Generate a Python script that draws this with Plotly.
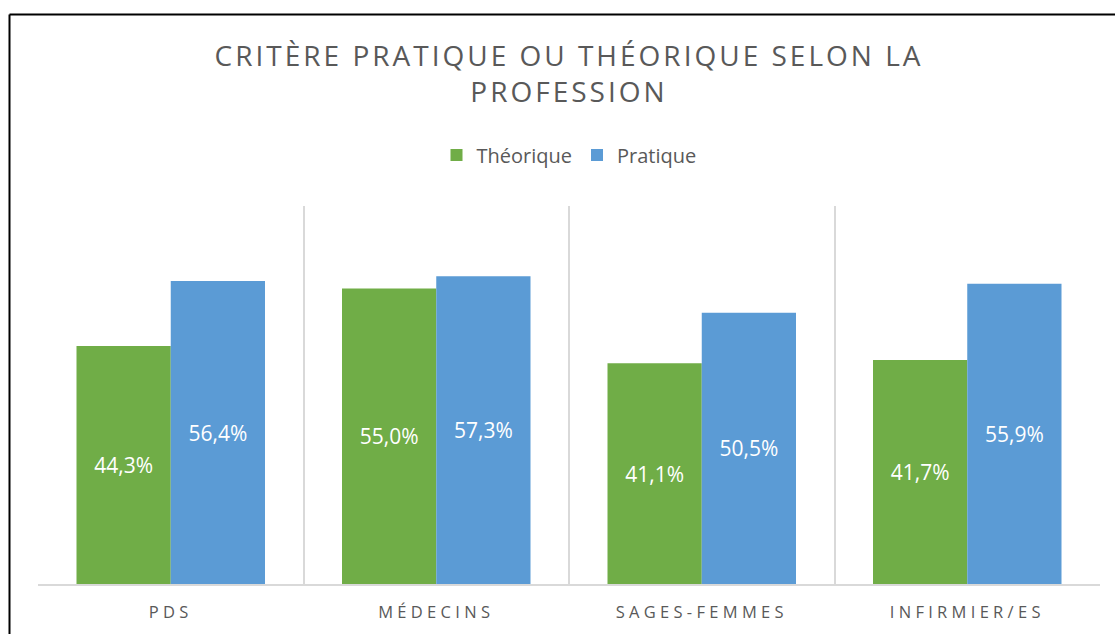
import plotly.graph_objects as go

categories = ["PDS", "MÉDECINS", "SAGES-FEMMES", "INFIRMIER/ES"]
theorique = [44.3, 55.0, 41.1, 41.7]
pratique = [56.4, 57.3, 50.5, 55.9]
series_names = ["Théorique", "Pratique"]
title_text = "CRITÈRE PRATIQUE OU THÉORIQUE SELON LA<br>PROFESSION"

GREEN = "#70AD47"
BLUE = "#5B9BD5"
GRAY_TXT = "#595959"
GRID = "#D9D9D9"
FONT = "Open Sans"

W, H = 1115, 634
L, R, T, B = 38, 15, 206, 50

fig = go.Figure()
for name, vals, col in [(series_names[0], theorique, GREEN), (series_names[1], pratique, BLUE)]:
    fig.add_trace(go.Bar(
        x=categories, y=vals, name=name,
        marker=dict(color=col, line=dict(width=0)),
        texttemplate="%{y:.1f}%",
        textposition="inside",
        insidetextanchor="middle",
        textangle=0,
        constraintext="none",
        textfont=dict(color="white", size=21, family=FONT),
        hoverinfo="skip",
    ))

pw = W - L - R
ph = H - T - B
fig.update_layout(
    width=W, height=H,
    margin=dict(l=L, r=R, t=T, b=B, autoexpand=False),
    barmode="group", bargap=0.29, bargroupgap=0,
    separators=", ",
    paper_bgcolor="white", plot_bgcolor="white",
    font=dict(family=FONT, color=GRAY_TXT),
    title=dict(
        text=title_text,
        x=0.5, xref="paper", xanchor="center",
        y=1 - 66 / H, yref="container", yanchor="top",
        font=dict(size=28, color=GRAY_TXT, family=FONT),
    ),
    legend=dict(
        orientation="h", x=0.5, xanchor="center",
        y=(H - B - 155) / ph, yanchor="middle",
        font=dict(size=20, color=GRAY_TXT, family=FONT),
        itemsizing="constant",
        traceorder="normal",
    ),
    xaxis=dict(
        type="category",
        tickson="boundaries",
        showgrid=True, gridcolor=GRID, gridwidth=1.5,
        showline=True, linecolor=GRID, linewidth=1.5,
        ticks="",
        ticklabelstandoff=12,
        tickfont=dict(size=16.5, color=GRAY_TXT, family=FONT),
        range=[-0.5, 3.5],
    ),
    yaxis=dict(
        range=[0, 70.36], visible=False, showgrid=False, zeroline=False,
    ),
    shapes=[
        dict(type="line", xref="paper", yref="paper",
             x0=(9.5 - L) / pw, x1=(W + 5 - L) / pw,
             y0=1 + (T - 14.5) / ph, y1=1 + (T - 14.5) / ph,
             line=dict(color="black", width=2), layer="above"),
        dict(type="line", xref="paper", yref="paper",
             x0=(9.5 - L) / pw, x1=(9.5 - L) / pw,
             y0=-B / ph - 0.05, y1=1 + (T - 14.5) / ph,
             line=dict(color="black", width=2), layer="above"),
    ],
)

post = """
document.body.style.margin='0';
var gd=document.getElementById('{plot_id}');
function ls(){
  gd.querySelectorAll('.gtitle').forEach(function(e){e.style.letterSpacing='3px';});
  gd.querySelectorAll('.xtick text').forEach(function(e){e.style.letterSpacing='4.3px';});
}
ls(); setTimeout(ls,50); setTimeout(ls,300);
if(gd.on){gd.on('plotly_afterplot', ls);}
"""

fig.write_html("out.html", post_script=post, config={"displayModeBar": False})
